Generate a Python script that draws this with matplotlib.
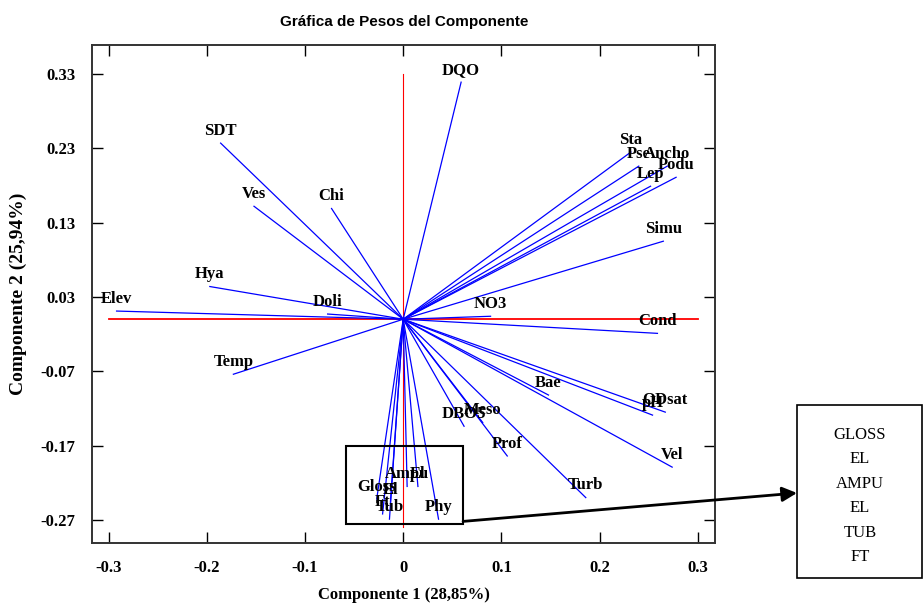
import numpy as np
import matplotlib
matplotlib.use("Agg")
import matplotlib.pyplot as plt
from matplotlib.patches import Rectangle

# component weights
names = ["Elev", "Hya", "Doli", "Temp", "SDT", "Ves", "Chi", "DQO",
         "Sta", "Pse", "Ancho", "Lep", "Podu", "Simu", "NO3", "Cond",
         "Bae", "ODsat", "pH", "Vel", "Turb", "Prof", "Meso", "DBO5",
         "Ampu", "El", "Gloss", "El", "Ft", "Tub", "Phy"]
comp1 = [-0.292, -0.197, -0.077, -0.173, -0.186, -0.152, -0.073, 0.059,
         0.232, 0.240, 0.269, 0.252, 0.278, 0.265, 0.089, 0.259,
         0.148, 0.267, 0.254, 0.274, 0.186, 0.106, 0.081, 0.062,
         0.004, 0.015, -0.027, -0.013, -0.021, -0.014, 0.036]
comp2 = [0.011, 0.044, 0.007, -0.074, 0.237, 0.152, 0.149, 0.319,
         0.225, 0.206, 0.206, 0.179, 0.191, 0.105, 0.004, -0.019,
         -0.102, -0.125, -0.129, -0.199, -0.240, -0.184, -0.139, -0.144,
         -0.225, -0.225, -0.242, -0.246, -0.262, -0.269, -0.269]

xticks = [-0.3, -0.2, -0.1, 0.0, 0.1, 0.2, 0.3]
xticklabels = ["-0.3", "-0.2", "-0.1", "0", "0.1", "0.2", "0.3"]
yticks = [-0.27, -0.17, -0.07, 0.03, 0.13, 0.23, 0.33]
yticklabels = ["-0.27", "-0.17", "-0.07", "0.03", "0.13", "0.23", "0.33"]

box_items = ["GLOSS", "EL", "AMPU", "EL", "TUB", "FT"]

serif = "Liberation Serif"

fig = plt.figure(figsize=(9.24, 6.08), dpi=100)
ax = fig.add_axes([0.0996, 0.107, 0.6746, 0.819])

# reference axes in red
ax.plot([-0.3, 0.3], [0, 0], color="red", lw=1.3, zorder=1)
ax.plot([0, 0], [-0.28, 0.33], color="red", lw=0.8, zorder=1)

for n, x, y in zip(names, comp1, comp2):
    ax.plot([0, x], [0, y], color="blue", lw=0.9, zorder=2)
    ax.annotate(n, (x, y), xytext=(0, 3), textcoords="offset points",
                ha="center", va="bottom", fontsize=12, fontweight="bold",
                family=serif, zorder=3)

# zoom box around the crowded vectors
ax.add_patch(Rectangle((-0.058, -0.275), 0.119, 0.104, fill=False,
                       lw=1.5, ec="black", zorder=4))

ax.set_xlim(-0.317, 0.318)
ax.set_ylim(-0.301, 0.369)
ax.set_xticks(xticks)
ax.set_xticklabels(xticklabels)
ax.set_yticks(yticks)
ax.set_yticklabels(yticklabels)
ax.tick_params(direction="in", length=8, width=1, top=True, right=True,
               labelsize=12, pad=12)
for lab in ax.get_xticklabels() + ax.get_yticklabels():
    lab.set_family(serif)
    lab.set_fontweight("bold")
for s in ax.spines.values():
    s.set_linewidth(1.4)
    s.set_color("#333333")

ax.set_xlabel("Componente 1 (28,85%)", family=serif, fontweight="bold",
              fontsize=12, labelpad=8)
ax.set_ylabel("Componente 2 (25,94%)", family=serif, fontweight="bold",
              fontsize=14, labelpad=10)
ax.set_title("Gráfica de Pesos del Componente", family="Liberation Sans",
             fontweight="bold", fontsize=11, pad=14)

# arrow to the legend box
ax.annotate("", xy=(797 / 924, 1 - 493 / 608), xycoords="figure fraction",
            xytext=(0.061, -0.272), textcoords="data",
            arrowprops=dict(arrowstyle="-|>", lw=2, color="black",
                            mutation_scale=22, shrinkA=0, shrinkB=0),
            annotation_clip=False)

fig.patches.append(Rectangle((797 / 924, 1 - 578 / 608), 125 / 924, 173 / 608,
                             transform=fig.transFigure, fill=False,
                             lw=1.2, ec="black"))
for i, t in enumerate(box_items):
    fig.text(860 / 924, 1 - (435 + i * 24.4) / 608, t, ha="center",
             va="center", family=serif, fontsize=12)

fig.savefig("out.png", dpi=100)
